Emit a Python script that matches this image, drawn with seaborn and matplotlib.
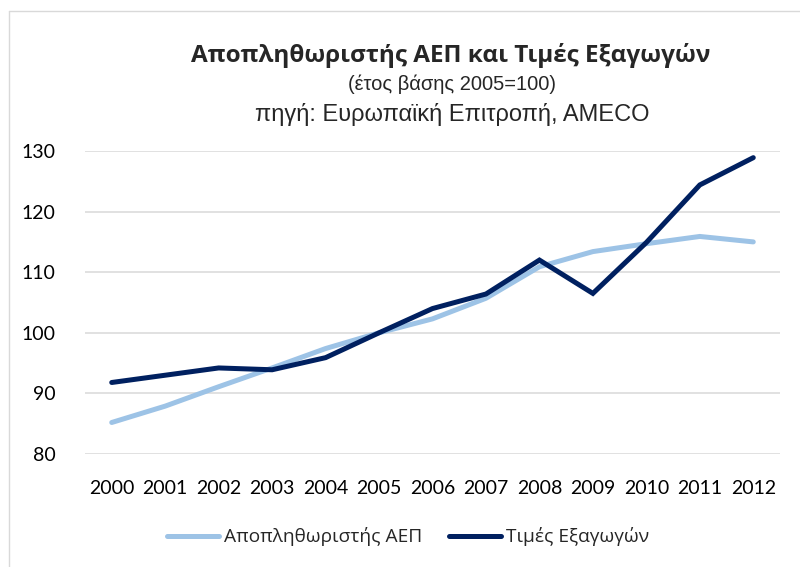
import matplotlib
matplotlib.use("Agg")
import matplotlib.pyplot as plt
import seaborn as sns
import pandas as pd
from matplotlib.lines import Line2D

years = list(range(2000, 2013))
gdp_deflator = [85.2, 87.9, 91.1, 94.2, 97.4, 100.0, 102.3, 105.7, 110.9, 113.4, 114.7, 115.9, 115.0]
export_prices = [91.8, 93.0, 94.2, 93.9, 95.9, 100.0, 104.0, 106.4, 112.0, 106.5, 114.9, 124.4, 128.9]
series_names = ["Αποπληθωριστής ΑΕΠ", "Τιμές Εξαγωγών"]
colors = ["#9DC3E6", "#002060"]
y_ticks = [80, 90, 100, 110, 120, 130]
title = "Αποπληθωριστής ΑΕΠ και Τιμές Εξαγωγών"
subtitle1 = "(έτος βάσης 2005=100)"
subtitle2 = "πηγή: Ευρωπαϊκή Επιτροπή, AMECO"

df = pd.DataFrame({
    "year": years * 2,
    "value": gdp_deflator + export_prices,
    "series": [series_names[0]] * len(years) + [series_names[1]] * len(years),
})

sns.set_theme(style="white")
plt.rcParams["font.family"] = ["Open Sans", "DejaVu Sans"]

W, H = 800, 567
fig = plt.figure(figsize=(W / 100, H / 100), dpi=100)
ax = fig.add_axes([85 / W, 1 - 454 / H, (780 - 85) / W, (454 - 151) / H])

sns.lineplot(data=df, x="year", y="value", hue="series", palette=colors,
             hue_order=series_names, linewidth=3.6, ax=ax, legend=False,
             solid_capstyle="round", solid_joinstyle="miter")

ax.set_xlim(1999.5, 2012.5)
ax.set_ylim(80, 130)
ax.set_yticks(y_ticks)
ax.set_xticks(years)
ax.set_xticklabels([str(y) for y in years], fontsize=14, family=["Lato", "DejaVu Sans"])
ax.set_yticklabels([str(v) for v in y_ticks], fontsize=14, family=["Lato", "DejaVu Sans"])
ax.tick_params(axis="both", length=0, colors="#000000")
ax.tick_params(axis="y", pad=21)
ax.tick_params(axis="x", pad=19)
for s in ax.spines.values():
    s.set_visible(False)
ax.grid(axis="y", color="#D9D9D9", linewidth=1.1)
ax.grid(axis="x", visible=False)
ax.set_axisbelow(True)
ax.set_xlabel("")
ax.set_ylabel("")

fig.text(451 / W, 1 - 55 / H, title, ha="center", va="center", fontsize=17.5,
         fontweight="bold", family=["Open Sans", "DejaVu Sans"])
fig.text(452 / W, 1 - 84 / H, subtitle1, ha="center", va="center", fontsize=14.5,
         family=["Liberation Sans", "DejaVu Sans"])
fig.text(452 / W, 1 - 114 / H, subtitle2, ha="center", va="center", fontsize=17,
         family=["Liberation Sans", "DejaVu Sans"])

# chart border
fig.add_artist(Line2D([9 / W, 9 / W], [0, 1 - 11 / H], transform=fig.transFigure,
                      color="#D9D9D9", linewidth=1.0))
fig.add_artist(Line2D([9 / W, 1], [1 - 11 / H, 1 - 11 / H], transform=fig.transFigure,
                      color="#D9D9D9", linewidth=1.0))

handles = [Line2D([0], [0], color=c, linewidth=3.6, solid_capstyle="round") for c in colors]
fig.legend(handles, series_names, loc="center", bbox_to_anchor=(408 / W, 1 - 537 / H),
           ncol=2, frameon=False, handlelength=2.7, handletextpad=0.25,
           columnspacing=1.4, prop={"family": ["Open Sans", "DejaVu Sans"], "size": 13.8})

fig.savefig("out.png", dpi=100)
